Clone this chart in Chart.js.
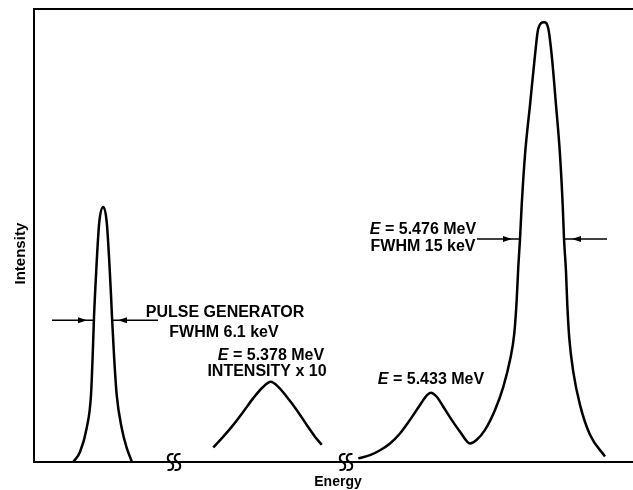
<!DOCTYPE html>
<html>
<head>
<meta charset="utf-8">
<script src="https://cdn.jsdelivr.net/npm/chart.js@4.4.0/dist/chart.umd.min.js"></script>
<style>
  html, body { margin: 0; padding: 0; background: #fff; }
</style>
</head>
<body>
<canvas id="myChart" width="633" height="490"></canvas>
<script>
const ctx = document.getElementById("myChart")

// pulse generator peak
const pulseX = [39.3, 46, 52.7, 57, 58.7, 60, 61, 62.7, 65.3, 69.3, 72.7, 75.3, 77, 78, 80, 82.7, 87.7, 92.7, 97.7]
const pulseY = [0, 2.2, 7.5, 14.8, 23.6, 32.0, 36.9, 44.2, 53.0, 56.3, 53.0, 44.2, 36.9, 32.0, 23.6, 14.8, 7.5, 3.1, 0.2]

// E = 5.378 MeV, intensity x 10
const peak2X = [179.3, 189.3, 199.3, 209.3, 219.3, 229.3, 236.7, 244.3, 252.7, 262.7, 272.7, 281, 287.7]
const peak2Y = [3.2, 5.6, 8.2, 11.1, 14.1, 16.6, 17.7, 16.6, 14.4, 11.5, 8.2, 5.6, 3.8]

// E = 5.433 MeV and E = 5.476 MeV
const peak3X = [324.3, 336, 346, 356, 366, 376, 386, 393.3, 396.7, 402.7, 409.3, 417.7, 426, 436,
  442.7, 451, 461, 469.3, 476, 480.3, 482.7, 484.3, 486, 487.7, 491, 496, 501, 504.3, 510, 514.3, 517.7,
  522, 526, 528.7, 530, 532, 533.3, 535.3, 539.3, 546, 556, 571]
const peak3Y = [0.8, 1.5, 2.6, 4.1, 6.3, 9.3, 12.6, 14.8, 15.3, 14.4, 12.2, 9.3, 6.7, 4.1,
  4.9, 7.1, 11.5, 16.6, 22.5, 28.4, 35.8, 43.1, 49.2, 56.7, 67.8, 78.8, 89.8, 95.7, 97.1, 95.7, 89.8,
  78.8, 67.8, 56.7, 49.4, 42.0, 34.7, 27.3, 19.9, 12.6, 6.0, 1.2]

// axis breaks on the energy axis
const breaks = [140, 312]

// FWHM arrows: [from, to, head tip, y]
const arrows = [
  [18, 60, 53, 31.3], [124, 78, 84, 31.3],
  [443, 486, 478, 49.2], [573, 530, 538, 49.2]
]

// labels: [x, y, italic E first?, text]
const labels = [
  [191, 32.9, false, 'PULSE GENERATOR'],
  [190, 28.5, false, 'FWHM 6.1 keV'],
  [237, 23.4, true, ' = 5.378 MeV'],
  [233, 19.9, false, 'INTENSITY x 10'],
  [397, 18.1, true, ' = 5.433 MeV'],
  [389, 51.4, true, ' = 5.476 MeV'],
  [389, 47.5, false, 'FWHM 15 keV']
]

const toPts = (xs, ys) => xs.map((v, i) => ({x: v, y: ys[i]}))

const curve = pts => ({
  data: pts,
  borderColor: '#000',
  borderWidth: 2.5,
  pointRadius: 0,
  fill: false,
  cubicInterpolationMode: 'monotone'
})

const font = 'bold 16px "Liberation Sans", Arial, sans-serif'
const fontE = 'italic bold 16px "Liberation Sans", Arial, sans-serif'

const extras = {
  id: 'extras',
  afterDraw(chart) {
    const c = chart.ctx
    const sx = chart.scales.x, sy = chart.scales.y
    const area = chart.chartArea
    c.save()
    c.strokeStyle = '#000'
    c.fillStyle = '#000'

    // top of frame
    c.lineWidth = 2
    c.beginPath()
    c.moveTo(area.left - 1, area.top)
    c.lineTo(area.right, area.top)
    c.stroke()

    // break marks
    breaks.forEach(b => {
      const px = sx.getPixelForValue(b), py = area.bottom
      c.lineWidth = 2
      ;[-3.5, 3.5].forEach(off => {
        const s = px + off
        c.beginPath()
        c.moveTo(s + 3, py - 8)
        c.bezierCurveTo(s - 4, py - 9, s - 4, py - 2, s, py)
        c.bezierCurveTo(s + 4, py + 2, s + 4, py + 9, s - 3, py + 8)
        c.stroke()
      })
    })

    // arrows
    arrows.forEach(a => {
      const x1 = sx.getPixelForValue(a[0]), x2 = sx.getPixelForValue(a[1])
      const tip = sx.getPixelForValue(a[2]), py = sy.getPixelForValue(a[3])
      const dir = x2 > x1 ? 1 : -1
      c.lineWidth = 1.5
      c.beginPath()
      c.moveTo(x1, py)
      c.lineTo(x2, py)
      c.stroke()
      c.beginPath()
      c.moveTo(tip, py)
      c.lineTo(tip - dir * 9, py - 3)
      c.lineTo(tip - dir * 9, py + 3)
      c.closePath()
      c.fill()
    })

    // labels
    c.textBaseline = 'middle'
    c.textAlign = 'left'
    labels.forEach(l => {
      const px = sx.getPixelForValue(l[0]), py = sy.getPixelForValue(l[1])
      c.font = fontE
      const wE = l[2] ? c.measureText('E').width : 0
      c.font = font
      const w = wE + c.measureText(l[3]).width
      let x0 = px - w / 2
      if (l[2]) {
        c.font = fontE
        c.fillText('E', x0, py)
        x0 += wE
        c.font = font
      }
      c.fillText(l[3], x0, py)
    })

    // axis titles
    c.textAlign = 'center'
    c.font = 'bold 14px "Liberation Sans", Arial, sans-serif'
    c.fillText('Energy', sx.getPixelForValue(304), area.bottom + 20)
    c.save()
    c.translate(area.left - 13, sy.getPixelForValue(46))
    c.rotate(-Math.PI / 2)
    c.font = 'bold 15px "Liberation Sans", Arial, sans-serif'
    c.fillText('Intensity', 0, 0)
    c.restore()

    c.restore()
  }
}

const myChart = new Chart(ctx, {
  type: 'line',
  data: {
    datasets: [
      curve(toPts(pulseX, pulseY)),
      curve(toPts(peak2X, peak2Y)),
      curve(toPts(peak3X, peak3Y))
    ]
  },
  options: {
    responsive: false,
    animation: false,
    layout: { padding: { left: 34, top: 9, right: 0, bottom: 28 } },
    plugins: {
      legend: { display: false },
      tooltip: { enabled: false }
    },
    scales: {
      x: {
        type: 'linear',
        min: 0,
        max: 599,
        grid: { display: false, drawTicks: false },
        border: { display: true, color: '#000', width: 2 },
        ticks: { display: false }
      },
      y: {
        min: 0,
        max: 100,
        grid: { display: false, drawTicks: false },
        border: { display: true, color: '#000', width: 2 },
        ticks: { display: false }
      }
    }
  },
  plugins: [extras]
});
</script>
</body>
</html>
